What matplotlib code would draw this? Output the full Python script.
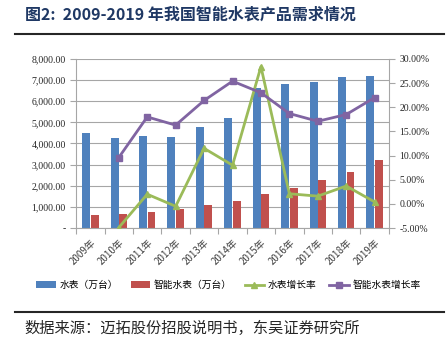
import numpy as np
import matplotlib
matplotlib.use('Agg')
import matplotlib.pyplot as plt
from matplotlib.ticker import FuncFormatter

plt.rcParams['font.family'] = ['Noto Sans CJK SC', 'DejaVu Sans']

years = ['2009年', '2010年', '2011年', '2012年', '2013年', '2014年',
         '2015年', '2016年', '2017年', '2018年', '2019年']
water = [4520, 4280, 4360, 4310, 4790, 5210, 6640, 6800, 6910, 7160, 7200]
smart = [620, 660, 780, 900, 1090, 1290, 1600, 1910, 2260, 2670, 3220]
water_growth = [np.nan, -4.9, 2.0, -0.5, 11.5, 8.0, 28.4, 2.1, 1.6, 3.7, 0.4]
smart_growth = [np.nan, 9.6, 18.0, 16.3, 21.4, 25.4, 23.0, 18.7, 17.1, 18.5, 22.0]

blue = '#4F81BD'
red = '#C0504D'
green = '#9BBB59'
purple = '#8064A2'
grid_c = '#A6A6A6'

fig = plt.figure(figsize=(4.48, 3.53), dpi=100)
ax = fig.add_axes([0.170, 0.354, 0.698, 0.479])
ax2 = ax.twinx()

x = np.arange(len(years))
w = 0.28
b1 = ax.bar(x - 0.15, water, w, color=blue, zorder=2, label='水表（万台）')
b2 = ax.bar(x + 0.15, smart, w, color=red, zorder=2, label='智能水表（万台）')

l1, = ax2.plot(x, water_growth, color=green, lw=2, marker='^', ms=5,
               label='水表增长率', zorder=3)
l2, = ax2.plot(x, smart_growth, color=purple, lw=2, marker='s', ms=5,
               label='智能水表增长率', zorder=3)

ax.set_xlim(-0.5, len(years) - 0.5)
ax.set_ylim(0, 8000)
ax.set_yticks(np.arange(0, 8001, 1000))
ax.yaxis.set_major_formatter(FuncFormatter(lambda v, p: '-' if v == 0 else f'{v:,.2f}'))
ax2.set_ylim(-5, 30)
ax2.set_yticks(np.arange(-5, 31, 5))
ax2.yaxis.set_major_formatter(FuncFormatter(lambda v, p: f'{v:.2f}%'))

ax.grid(axis='y', color=grid_c, lw=0.8, zorder=0)
ax.set_axisbelow(True)

for a in (ax, ax2):
    for s in a.spines.values():
        s.set_visible(False)
ax.spines['left'].set_visible(True)
ax.spines['left'].set_color(grid_c)
ax.spines['bottom'].set_visible(True)
ax.spines['bottom'].set_color(grid_c)
ax2.spines['right'].set_visible(True)
ax2.spines['right'].set_color(grid_c)

# ticks between categories, labels at the centres
ax.set_xticks(np.arange(-0.5, len(years), 1), minor=False)
ax.set_xticklabels([])
ax.set_xticks(x, minor=True)
ax.set_xticklabels(years, minor=True, rotation=45, ha='right',
                   rotation_mode='anchor', fontsize=7, color='#404040')
ax.tick_params(axis='x', which='major', length=4, color=grid_c)
ax.tick_params(axis='x', which='minor', length=0, pad=7)
ax.tick_params(axis='y', length=4, color=grid_c, labelsize=7, labelcolor='#262626')
ax2.tick_params(axis='y', length=4, color=grid_c, labelsize=7, labelcolor='#262626')
for lab in ax.get_yticklabels() + ax2.get_yticklabels():
    lab.set_family(['Liberation Serif', 'DejaVu Sans'])

fig.legend(handles=[b1, b2, l1, l2], loc='center', ncol=4,
           bbox_to_anchor=(0.51, 1 - 285 / 353), frameon=False, fontsize=7,
           handlelength=2.0, columnspacing=1.3, handletextpad=0.4)

fig.text(0.055, 1 - 15 / 353, '图2:  2009-2019 年我国智能水表产品需求情况',
         fontsize=11.5, fontweight='bold', color='#1F3864', va='center')
fig.add_artist(plt.Line2D([0.033, 0.99], [1 - 34 / 353] * 2,
                          color='#262626', lw=1.5))
fig.add_artist(plt.Line2D([0.033, 0.99], [1 - 312 / 353] * 2,
                          color='#262626', lw=1.5))
fig.text(0.055, 1 - 328 / 353, '数据来源：迈拓股份招股说明书，东吴证券研究所',
         fontsize=11, color='#262626', va='center')

fig.savefig('out.png', dpi=100)
